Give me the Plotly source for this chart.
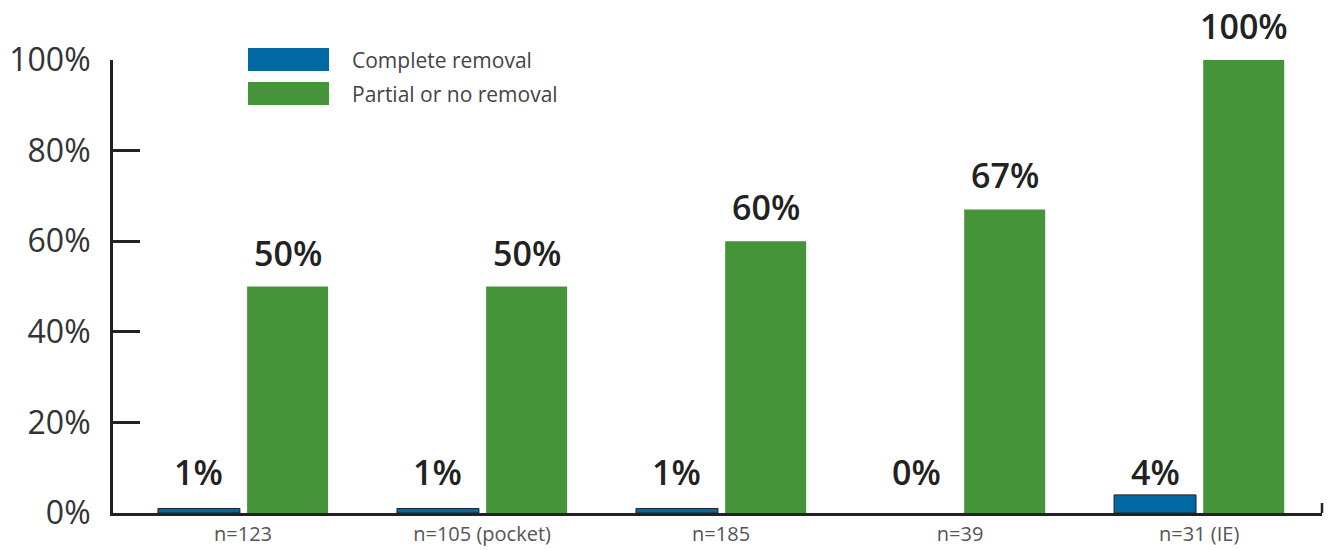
import plotly.graph_objects as go

categories = ["n=123", "n=105 (pocket)", "n=185", "n=39", "n=31 (IE)"]
complete_removal = [1, 1, 1, 0, 4]
partial_removal = [50, 50, 60, 67, 100]
series_names = ["Complete removal", "Partial or no removal"]
y_ticks = [0, 20, 40, 60, 80, 100]
y_tick_labels = ["0%", "20%", "40%", "60%", "80%", "100%"]

BLUE = "#0068a3"
GREEN = "#46943a"
DARK = "#222222"
FONT = "Open Sans"

x = list(range(len(categories)))
blue_off, blue_w = -0.356, 0.343
green_off, green_w = 0.017, 0.339

fig = go.Figure()
fig.add_trace(go.Bar(x=x, y=complete_removal, name=series_names[0], offset=blue_off, width=blue_w,
                     marker=dict(color=BLUE, line=dict(color=DARK, width=[1 if v > 0 else 0 for v in complete_removal])),
                     showlegend=False))
fig.add_trace(go.Bar(x=x, y=partial_removal, name=series_names[1], offset=green_off, width=green_w,
                     marker=dict(color=GREEN, line=dict(width=0)), showlegend=False))

annotations = []
for i, v in enumerate(complete_removal):
    annotations.append(dict(x=i + blue_off + blue_w / 2, y=0, xref="x", yref="y", text=f"{v}%",
                            showarrow=False, yanchor="middle", yshift=41,
                            font=dict(family=FONT, size=34, color=DARK, weight=600)))
for i, v in enumerate(partial_removal):
    annotations.append(dict(x=i + green_off + green_w / 2, y=v, xref="x", yref="y", text=f"{v}%",
                            showarrow=False, yanchor="middle", yshift=34,
                            font=dict(family=FONT, size=34, color=DARK, weight=600)))

# manual legend
W, H = 1328, 550
shapes = []
legend_rows = [(series_names[0], BLUE, 48, 71), (series_names[1], GREEN, 82, 105)]
for name, col, top, bot in legend_rows:
    shapes.append(dict(type="rect", xref="paper", yref="paper",
                       x0=(248 - 113) / 1209, x1=(329 - 113) / 1209,
                       y0=(513 - bot) / 453, y1=(513 - top) / 453,
                       fillcolor=col, line=dict(width=0)))
    annotations.append(dict(xref="paper", yref="paper", x=(350 - 113) / 1209, y=(513 - (top + bot) / 2) / 453,
                            text=name, showarrow=False, xanchor="left", yanchor="middle",
                            font=dict(family=FONT, size=21, color="#444444")))
# small upturn at right end of baseline
shapes.append(dict(type="line", xref="paper", yref="paper", x0=1, x1=1, y0=0, y1=10 / 453,
                   line=dict(color=DARK, width=2.5)))

fig.update_layout(
    width=W, height=H,
    margin=dict(l=113, r=6, t=60, b=37),
    paper_bgcolor="white", plot_bgcolor="white",
    barmode="overlay",
    annotations=annotations, shapes=shapes,
    xaxis=dict(range=[-0.544, 4.514], tickvals=x, ticktext=categories, showgrid=False, zeroline=False,
               showline=True, linecolor=DARK, linewidth=3, ticks="", ticklabelstandoff=1,
               automargin=False,
               tickfont=dict(family=FONT, size=20, color="#555555")),
    yaxis=dict(range=[0, 100], tickvals=y_ticks, ticktext=y_tick_labels, showgrid=False, zeroline=False,
               showline=True, linecolor=DARK, linewidth=3, ticks="inside", ticklen=27, tickwidth=2.5,
               tickcolor=DARK, ticklabelstandoff=13, automargin=False,
               tickfont=dict(family=FONT, size=32, color="#333333")),
)

fig.write_html("out.html")
